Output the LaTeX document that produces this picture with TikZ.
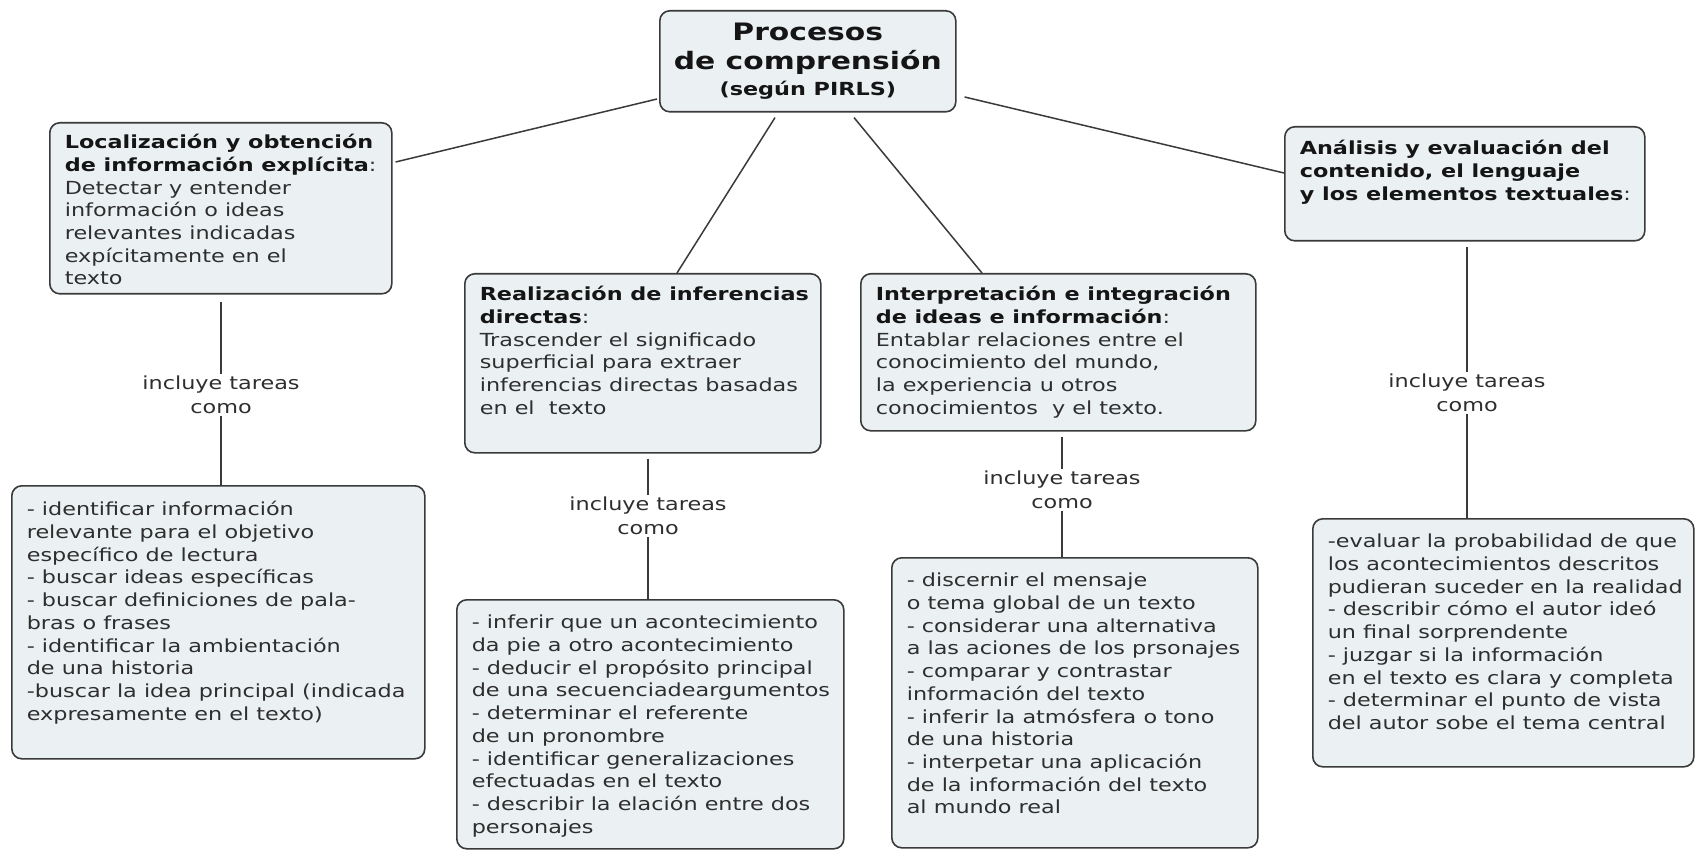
\documentclass[tikz,border=0pt]{standalone}
\usepackage{fontspec}
\setmainfont{DejaVu Sans}[FakeStretch=1.24]
\usetikzlibrary{calc}
\definecolor{boxfill}{HTML}{EBF1F3}
\definecolor{boxdraw}{HTML}{3A3A3A}
\definecolor{linecol}{HTML}{3A3A3A}
\definecolor{txtcol}{HTML}{2E2E2E}
\definecolor{hdcol}{HTML}{151515}
\newcommand{\hd}[1]{\textbf{\color{hdcol}#1}}
\newcommand{\cbox}[4]{\parbox[t][#2][t]{#1}{\parindent=0pt\leftskip=15pt\rightskip=0pt plus 1fil\parfillskip=0pt plus 1fil\fontsize{18}{22.7}\selectfont\rule{0pt}{#3}#4}}
\tikzset{
  box/.style={draw=boxdraw, fill=boxfill, line width=1.6pt, rounded corners=10pt, inner sep=0pt, anchor=north west, text=txtcol},
  titlebox/.style={box, minimum width=296pt, minimum height=101pt, align=center, text=hdcol, font=\fontsize{24}{29}\selectfont\bfseries},
  conn/.style={draw=linecol, line width=1.5pt},
  lbl/.style={font=\fontsize{18}{23.5}\selectfont, align=center, inner sep=2pt, text=txtcol}
}
\begin{document}
\begin{tikzpicture}[x=1pt, y=-1pt]
\useasboundingbox (0,0) rectangle (1695,850);
\fill[white] (0,0) rectangle (1695,850);

\node[titlebox] (C) at (659,10) {Procesos\\de comprensión\\[-3pt]\fontsize{18}{22}\selectfont\bfseries (según PIRLS)};

\node[box] (B1) at (49,122) {\cbox{342pt}{171pt}{26pt}{\hd{Localización y obtención\\de información explícita}:\\Detectar y entender\\información o ideas\\relevantes indicadas\\expícitamente en el\\texto}};

\node[box] (B2) at (464,273) {\cbox{356pt}{179pt}{27pt}{\hd{Realización de inferencias\\directas}:\\Trascender el significado\\superficial para extraer\\inferencias directas basadas\\en el~ texto}};

\node[box] (B3) at (860,273) {\cbox{395pt}{157pt}{27pt}{\hd{Interpretación e integración\\de ideas e información}:\\Entablar relaciones entre el\\conocimiento del mundo,\\la experiencia u otros\\conocimientos~ y el texto.}};

\node[box] (B4) at (1284,126) {\cbox{360pt}{114pt}{28pt}{\hd{Análisis y evaluación del\\contenido, el lenguaje\\y los elementos textuales}:}};

\node[box] (D1) at (11,485) {\cbox{413pt}{273pt}{30pt}{- identificar información\\relevante para el objetivo\\específico de lectura\\- buscar ideas específicas\\- buscar definiciones de pala-\\bras o frases\\- identificar la ambientación\\de una historia\\-buscar la idea principal (indicada\\expresamente en el texto)}};

\node[box] (D2) at (456,599) {\cbox{387pt}{249pt}{29pt}{- inferir que un acontecimiento\\da pie a otro acontecimiento\\- deducir el propósito principal\\de una secuenciadeargumentos\\- determinar el referente\\de un pronombre\\- identificar generalizaciones\\efectuadas en el texto\\- describir la elación entre dos\\personajes}};

\node[box] (D3) at (891,557) {\cbox{366pt}{290pt}{29pt}{- discernir el mensaje\\o tema global de un texto\\- considerar una alternativa\\a las aciones de los prsonajes\\- comparar y contrastar\\información del texto\\- inferir la atmósfera o tono\\de una historia\\- interpetar una aplicación\\de la información del texto\\al mundo real}};

\node[box] (D4) at (1312,518) {\cbox{381pt}{248pt}{29pt}{-evaluar la probabilidad de que\\los acontecimientos descritos\\pudieran suceder en la realidad\\- describir cómo el autor ideó\\un final sorprendente\\- juzgar si la información\\en el texto es clara y completa\\- determinar el punto de vista\\del autor sobe el tema central}};

\node[lbl] (L1) at (221,395) {incluye tareas\\como};
\node[lbl] (L2) at (648,516) {incluye tareas\\como};
\node[lbl] (L3) at (1062,490) {incluye tareas\\como};
\node[lbl] (L4) at (1467,393) {incluye tareas\\como};

\draw[conn] ($(C.north west)+(-2,89)$) -- ($(B1.north east)+(3,40)$);
\draw[conn] ($(C.south west)+(116,5)$) -- ($(B2.north west)+(213,0)$);
\draw[conn] ($(C.south west)+(195,5)$) -- ($(B3.north west)+(122,0)$);
\draw[conn] ($(C.north east)+(8,87)$) -- ($(B4.north west)+(0,47)$);

\draw[conn] ($(L1.north |- B1.south)+(0,7)$) -- (L1.north);
\draw[conn] (L1.south) -- (L1.south |- D1.north);
\draw[conn] ($(L2.north |- B2.south)+(0,5)$) -- (L2.north);
\draw[conn] (L2.south) -- (L2.south |- D2.north);
\draw[conn] ($(L3.north |- B3.south)+(0,5)$) -- (L3.north);
\draw[conn] (L3.south) -- (L3.south |- D3.north);
\draw[conn] ($(L4.north |- B4.south)+(0,5)$) -- (L4.north);
\draw[conn] (L4.south) -- (L4.south |- D4.north);
\end{tikzpicture}
\end{document}
